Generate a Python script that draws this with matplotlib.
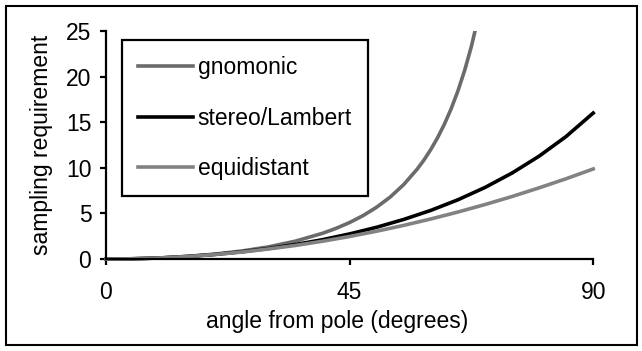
import matplotlib.pyplot as plt
from matplotlib.patches import Rectangle

plt.rcParams['font.family'] = ['Liberation Sans', 'DejaVu Sans']

# angle from pole (degrees) and sampling requirement
angle = [0, 5, 10, 15, 20, 25, 30, 35, 40, 45, 50, 55, 60, 65, 70, 75, 80, 85, 90]
stereo = [0, 0.03, 0.12, 0.28, 0.50, 0.79, 1.15, 1.59, 2.12, 2.75, 3.48, 4.34,
          5.33, 6.49, 7.84, 9.42, 11.27, 13.43, 16.0]
equidistant = [0, 0.03, 0.12, 0.27, 0.49, 0.76, 1.10, 1.49, 1.95, 2.47, 3.05, 3.69,
               4.39, 5.15, 5.97, 6.85, 7.80, 8.80, 9.87]

angle_g = [0, 5, 10, 15, 20, 25, 30, 35, 40, 42.5, 45, 47.5, 50, 52.5, 55, 57.5,
           58.75, 60, 61.25, 62.5, 63.75, 65, 66.25, 67.5, 68.75, 70]
gnomonic = [0, 0.03, 0.12, 0.29, 0.53, 0.87, 1.33, 1.96, 2.82, 3.36, 4.0, 4.76,
            5.68, 6.79, 8.16, 9.86, 10.86, 12.0, 13.29, 14.76, 16.45, 18.4, 20.66,
            23.3, 26.45, 30.2]

fig = plt.figure(figsize=(6.42, 3.51), dpi=100)
ax = fig.add_axes([0.165, 0.262, 0.759, 0.65])

lines = []
lines += ax.plot(angle_g, gnomonic, color='#6b6b6b', linewidth=2.6, label='gnomonic')
lines += ax.plot(angle, stereo, color='black', linewidth=2.6, label='stereo/Lambert')
lines += ax.plot(angle, equidistant, color='#828282', linewidth=2.6, label='equidistant')

# clip only at the top so the lines at zero are drawn fully
clip = Rectangle((-5, -5), 100, 30, transform=ax.transData)
for ln in lines:
    ln.set_clip_path(clip)

ax.set_xlim(0, 90)
ax.set_ylim(0, 25)
ax.set_xticks([0, 45, 90])
ax.set_yticks(range(0, 26, 5))

for s in ['top', 'right']:
    ax.spines[s].set_visible(False)
for s in ['left', 'bottom']:
    ax.spines[s].set_linewidth(1.6)

ax.tick_params(axis='both', labelsize=16.5, length=4.5, width=1.6, direction='out')
ax.tick_params(axis='x', pad=11)
ax.tick_params(axis='y', pad=6)

ax.set_xlabel('angle from pole (degrees)', fontsize=16.5)
ax.xaxis.set_label_coords(0.474, -0.225)
ax.set_ylabel('sampling requirement', fontsize=16.5, labelpad=9)

leg = fig.legend(loc='upper left', bbox_to_anchor=(122 / 642, 1 - 40 / 351),
                 fontsize=16.5, frameon=True, fancybox=False, edgecolor='black',
                 framealpha=1, borderaxespad=0, handlelength=2.4, handletextpad=0.2,
                 labelspacing=1.2, borderpad=0.7)
leg.get_frame().set_linewidth(1.6)

# outer frame around the whole picture
fig.patches.append(Rectangle((6 / 642, 6 / 351), 631 / 642, 339 / 351,
                             transform=fig.transFigure, fill=False,
                             edgecolor='black', linewidth=1.5))

fig.savefig('out.png', dpi=100)
